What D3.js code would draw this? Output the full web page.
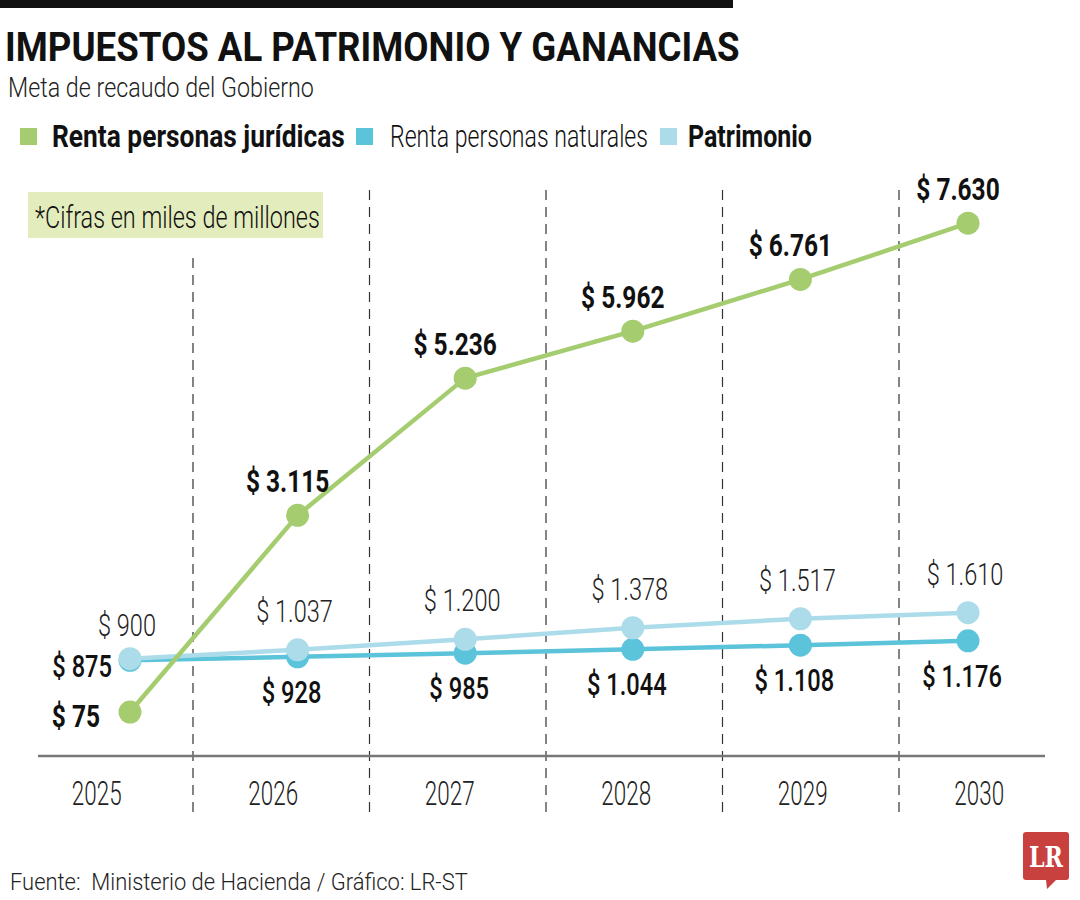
<!DOCTYPE html>
<html>
<head>
<meta charset="utf-8">
<script src="https://cdn.jsdelivr.net/npm/d3@7"></script>
<style>
  html, body { margin: 0; padding: 0; background: #fff; }
  svg { display: block; }
  text { font-family: Roboto, "Open Sans", sans-serif; white-space: pre; }
</style>
</head>
<body>
<svg id="chart" width="1080" height="900"></svg>
<script>
// ---------- data ----------
const years = ["2025", "2026", "2027", "2028", "2029", "2030"];
const juridicas = [75, 3115, 5236, 5962, 6761, 7630];
const naturales = [875, 928, 985, 1044, 1108, 1176];
const patrimonio = [900, 1037, 1200, 1378, 1517, 1610];
const seriesNames = ["Renta personas jurídicas", "Renta personas naturales", "Patrimonio"];

const title = "IMPUESTOS AL PATRIMONIO Y GANANCIAS";
const subtitle = "Meta de recaudo del Gobierno";
const note = "*Cifras en miles de millones";
const source = "Fuente:  Ministerio de Hacienda / Gráfico: LR-ST";

// ---------- setup ----------
const svg = d3.select("#chart");
const C = { green: "#a5cd70", teal: "#5bc4da", light: "#acdcea", ink: "#111", thin: "#222" };
const loc = d3.formatLocale({ decimal: ",", thousands: ".", grouping: [3], currency: ["$", ""] });
const fmt = v => "$ " + loc.format(",")(v);

// horizontal condensing via transform (keeps anchor point fixed)
function squeeze(node, f) {
  const x0 = +node.getAttribute("x") || 0;
  node.setAttribute("transform", `translate(${x0},0) scale(${f},1) translate(${-x0},0)`);
}
function fitWidth(sel, w) {
  sel.each(function () { squeeze(this, w / this.getComputedTextLength()); });
}
function condense(sel, f) {
  sel.each(function () { squeeze(this, f); });
}

const x = d3.scalePoint().domain(years).range([130, 968]);
const xb = d3.scaleBand().domain(years).range([16.5, 1075.5]).padding(0);
const y = d3.scaleLinear().domain([0, 8000]).range([716.9, 199.3]);

// ---------- header ----------
svg.append("rect").attr("x", 0).attr("y", 0).attr("width", 733).attr("height", 8).attr("fill", "#111");

svg.append("text").attr("x", 5).attr("y", 61).text(title)
  .attr("font-size", 40).attr("font-weight", 700).attr("fill", C.ink)
  .call(fitWidth, 735);

svg.append("text").attr("x", 8).attr("y", 97).text(subtitle)
  .attr("font-size", 28).attr("font-weight", 300).attr("fill", C.thin)
  .call(fitWidth, 306);

// legend
const legend = [
  { name: seriesNames[0], color: C.green, weight: 700, sx: 20, tx: 52, w: 293 },
  { name: seriesNames[1], color: C.teal, weight: 300, sx: 356, tx: 390, w: 258 },
  { name: seriesNames[2], color: C.light, weight: 700, sx: 660, tx: 688, w: 124 }
];
const lg = svg.append("g");
lg.selectAll("rect").data(legend).join("rect")
  .attr("x", d => d.sx).attr("y", 128).attr("width", 17).attr("height", 17).attr("fill", d => d.color);
lg.selectAll("text").data(legend).join("text")
  .attr("x", d => d.tx).attr("y", 147).text(d => d.name)
  .attr("font-size", 31).attr("font-weight", d => d.weight).attr("fill", C.ink)
  .each(function (d) { d3.select(this).call(fitWidth, d.w); });

// note box
svg.append("rect").attr("x", 28).attr("y", 192).attr("width", 295).attr("height", 46).attr("fill", "#e3ecbc");
svg.append("text").attr("x", 35).attr("y", 228).text(note)
  .attr("font-size", 32).attr("font-weight", 300).attr("fill", C.ink)
  .call(fitWidth, 285);

// ---------- grid: dashed separators ----------
svg.append("g").selectAll("line").data(years.slice(1)).join("line")
  .attr("x1", d => xb(d)).attr("x2", d => xb(d))
  .attr("y1", (d, i) => i === 0 ? 258 : 190).attr("y2", 812)
  .attr("stroke", "#333").attr("stroke-width", 1.2).attr("stroke-dasharray", "10,7");

// axis baseline
svg.append("line").attr("x1", 38).attr("x2", 1045).attr("y1", 756).attr("y2", 756)
  .attr("stroke", "#777").attr("stroke-width", 2.5);

// year labels
svg.append("g").selectAll("text").data(years).join("text")
  .attr("x", d => xb(d) + xb.bandwidth() / 2 - 8).attr("y", 805)
  .attr("text-anchor", "middle").text(d => d)
  .attr("font-size", 34).attr("font-weight", 300).attr("fill", C.thin)
  .call(condense, 0.66);

// ---------- series ----------
const line = d3.line().x(d => x(d.year)).y(d => y(d.v));
function series(values, color) {
  const data = years.map((yr, i) => ({ year: yr, v: values[i] }));
  const g = svg.append("g");
  g.append("path").datum(data).attr("d", line).attr("fill", "none")
    .attr("stroke", color).attr("stroke-width", 4.5).attr("stroke-linejoin", "round");
  g.selectAll("circle").data(data).join("circle")
    .attr("cx", d => x(d.year)).attr("cy", d => y(d.v)).attr("r", 11.5).attr("fill", color);
  return data;
}
const dN = series(naturales, C.teal);
const dP = series(patrimonio, C.light);
const dJ = series(juridicas, C.green);

// ---------- value labels ----------
// naturales: below points (first one to the left)
svg.append("g").selectAll("text").data(dN).join("text")
  .attr("x", (d, i) => i === 0 ? 112 : x(d.year) - 6)
  .attr("y", (d, i) => i === 0 ? 677 : y(d.v) + 46)
  .attr("text-anchor", (d, i) => i === 0 ? "end" : "middle")
  .text(d => fmt(d.v))
  .attr("font-size", 32).attr("font-weight", 500).attr("fill", C.ink)
  .call(condense, 0.74);

// patrimonio: above points
svg.append("g").selectAll("text").data(dP).join("text")
  .attr("x", d => x(d.year) - 3)
  .attr("y", (d, i) => i === 0 ? 636 : y(d.v) - 28)
  .attr("text-anchor", "middle")
  .text(d => fmt(d.v))
  .attr("font-size", 31).attr("font-weight", 300).attr("fill", C.thin)
  .call(condense, 0.76);

// juridicas: above points (first one to the left)
svg.append("g").selectAll("text").data(dJ).join("text")
  .attr("x", (d, i) => i === 0 ? 100 : x(d.year) - 10)
  .attr("y", (d, i) => i === 0 ? 727 : y(d.v) - 23)
  .attr("text-anchor", (d, i) => i === 0 ? "end" : "middle")
  .text(d => fmt(d.v))
  .attr("font-size", 31).attr("font-weight", 700).attr("fill", C.ink)
  .call(condense, 0.79);

// ---------- footer ----------
svg.append("text").attr("x", 10).attr("y", 890).text(source)
  .attr("font-size", 24).attr("font-weight", 300).attr("fill", C.thin)
  .call(fitWidth, 458);

// LR logo
const logo = svg.append("g");
logo.append("path")
  .attr("d", "M1026,832 H1066 Q1069,832 1069,835 V877 Q1069,880 1066,880 H1056 L1047,889 L1046,880 H1026 Q1023,880 1023,877 V835 Q1023,832 1026,832 Z")
  .attr("fill", "#c8413f");
logo.append("text").attr("x", 1046).attr("y", 867).attr("text-anchor", "middle").text("LR")
  .style("font-family", "'DejaVu Serif', 'Liberation Serif', serif")
  .attr("font-size", 27).attr("font-weight", 700).attr("fill", "#fff")
  .call(condense, 0.82);
</script>
</body>
</html>
